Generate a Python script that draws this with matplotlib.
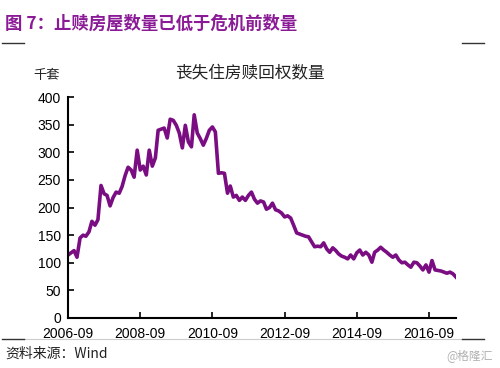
import matplotlib
matplotlib.use("Agg")
import matplotlib.pyplot as plt
import pandas as pd
from matplotlib.lines import Line2D

plt.rcParams['font.family'] = ['Liberation Sans', 'Noto Sans CJK SC', 'DejaVu Sans']

# Monthly foreclosure inventory (thousand units), 2006-09 .. 2017-06
START = '2006-09'
VALUES = [
    114, 118, 122, 110, 145, 150, 148, 156, 175, 168, 178, 240,
    225, 222, 203, 218, 228, 226, 238, 258, 273, 268, 255, 304,
    268, 275, 259, 304, 275, 290, 340, 342, 344, 326, 360, 358,
    349, 335, 308, 349, 319, 310, 368, 335, 325, 313, 325, 340,
    346, 337, 262, 263, 262, 226, 239, 219, 222, 213, 219, 213,
    222, 228, 215, 208, 212, 210, 197, 200, 208, 196, 194, 190,
    183, 185, 181, 168, 154, 152, 150, 148, 147, 138, 129, 130,
    129, 136, 125, 119, 127, 122, 116, 112, 110, 107, 114, 107,
    118, 123, 114, 119, 114, 101, 119, 123, 128, 123, 119, 114,
    110, 114, 105, 100, 101, 96, 92, 101, 100, 94, 87, 96,
    83, 104, 87, 86, 85, 83, 81, 83, 80, 74,
]
TICK_LABELS = ['2006-09', '2008-09', '2010-09', '2012-09', '2014-09', '2016-09']
Y_TICKS = [0, 50, 100, 150, 200, 250, 300, 350, 400]

HEADER = '图 7：止赎房屋数量已低于危机前数量'
TITLE = '丧失住房赎回权数量'
UNIT = '千套'
SOURCE = '资料来源：Wind'
WATERMARK = '@格隆汇'

PURPLE = '#7a0d82'
CJK = ['Noto Sans CJK SC', 'DejaVu Sans']

dates = pd.date_range(START, periods=len(VALUES), freq='MS')
tick_dates = pd.to_datetime(TICK_LABELS)

fig = plt.figure(figsize=(5.0, 3.68), dpi=100)
ax = fig.add_axes([0.136, 0.136, 0.776, 0.600])

ax.plot(dates, VALUES, color=PURPLE, linewidth=2.6, solid_joinstyle='round')

ax.set_xlim(dates[0], pd.Timestamp('2017-06-01'))
ax.set_ylim(0, 400)
ax.set_yticks(Y_TICKS)
ax.set_xticks(tick_dates)
ax.set_xticklabels(TICK_LABELS)
ax.tick_params(direction='in', length=4, width=1.2, labelsize=10, colors='black')
ax.tick_params(axis='x', pad=6.5)
ax.tick_params(axis='y', pad=5)
for s in ['top', 'right']:
    ax.spines[s].set_visible(False)
for s in ['left', 'bottom']:
    ax.spines[s].set_linewidth(1.5)
    ax.spines[s].set_color('black')

fig.text(0.5, 0.80, TITLE, ha='center', va='center', fontsize=12,
         family=CJK, color='#222222')
fig.text(0.094, 0.796, UNIT, ha='center', va='center', fontsize=9.5,
         family=CJK, color='#222222')

fig.text(0.01, 0.935, HEADER, ha='left', va='center', fontsize=12.5, fontweight='bold',
         family=CJK, color='#8a1a96')

# decorative rules
fig.add_artist(Line2D([0.004, 0.048], [0.883, 0.883], color='#333333', lw=1.0))
fig.add_artist(Line2D([0.924, 0.968], [0.883, 0.883], color='#333333', lw=1.0))
fig.add_artist(Line2D([0.048, 0.924], [0.079, 0.079], color='#cccccc', lw=0.8))
fig.add_artist(Line2D([0.004, 0.048], [0.079, 0.079], color='#333333', lw=1.0))
fig.add_artist(Line2D([0.924, 0.968], [0.079, 0.079], color='#333333', lw=1.0))

fig.text(0.01, 0.040, SOURCE, ha='left', va='center', fontsize=10,
         family=CJK, color='#222222')
fig.text(0.985, 0.035, WATERMARK, ha='right', va='center', fontsize=8.5,
         family=CJK, color='#b0b0b0')

fig.savefig('out.png', dpi=100)
